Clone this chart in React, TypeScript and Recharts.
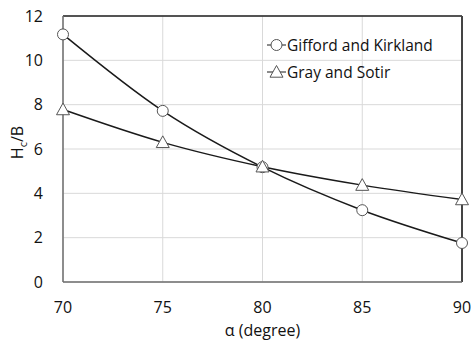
import { LineChart, Line, XAxis, YAxis, CartesianGrid, ReferenceLine } from "recharts"

const angles = [70, 75, 80, 85, 90]
const gifford = [11.17, 7.72, 5.18, 3.24, 1.76]
const graySotir = [7.78, 6.3, 5.2, 4.37, 3.72]
const xTicks = [70, 75, 80, 85, 90]
const yTicks = [0, 2, 4, 6, 8, 10, 12]
const seriesNames = ["Gifford and Kirkland", "Gray and Sotir"]

const data = angles.map((a, i) => ({ a, gifford: gifford[i], gray: graySotir[i] }))

const font = "Open Sans, sans-serif"
const ink = "#1a1a1a"

function Circle(props: any) {
  const { cx, cy } = props
  if (cx == null || cy == null) return null
  return <circle cx={cx} cy={cy} r={5.5} fill="#fff" stroke="#555" strokeWidth={1} />
}

function Triangle(props: any) {
  const { cx, cy } = props
  if (cx == null || cy == null) return null
  const s = 6.5
  return (
    <polygon
      points={`${cx},${cy - s} ${cx - s},${cy + s * 0.8} ${cx + s},${cy + s * 0.8}`}
      fill="#fff"
      stroke="#555"
      strokeWidth={1}
    />
  )
}

// legend drawn as an overlay inside the plot area, like the Excel original
function LegendBox() {
  const item = (label: string, tri: boolean) => (
    <div key={label} style={{ display: "flex", alignItems: "center", height: 27 }}>
      <svg width={21} height={16}>
        <line x1={1} y1={8} x2={20} y2={8} stroke={ink} strokeWidth={1} />
        {tri ? <Triangle cx={10.5} cy={8} /> : <Circle cx={10.5} cy={8} />}
      </svg>
      <span style={{ fontSize: 15.5, color: "#111", fontFamily: font, whiteSpace: "nowrap" }}>{label}</span>
    </div>
  )
  return (
    <div style={{ position: "absolute", left: 266, top: 31 }}>
      {item(seriesNames[0], false)}
      {item(seriesNames[1], true)}
    </div>
  )
}

export default function App() {
  return (
    <div style={{ position: "absolute", left: 0, top: 0, width: 473, height: 341, background: "#fff" }}>
      <LineChart
        width={473}
        height={341}
        data={data}
        margin={{ top: 16, right: 11, left: 0, bottom: 0 }}
        style={{ fontFamily: font }}
      >
        <CartesianGrid stroke="#d9d9d9" />
        <XAxis
          dataKey="a"
          type="number"
          domain={[70, 90]}
          ticks={xTicks}
          height={59}
          tickLine={false}
          axisLine={{ stroke: "#6e6e6e", strokeWidth: 1.5 }}
          tick={{ fill: "#111", fontSize: 16 }}
          tickMargin={14}
          label={{ value: "α (degree)", position: "insideBottom", offset: 5, fill: "#111", fontSize: 16 }}
        />
        <YAxis
          type="number"
          domain={[0, 12]}
          ticks={yTicks}
          width={63}
          tickLine={false}
          axisLine={{ stroke: "#6e6e6e", strokeWidth: 1.5 }}
          tick={{ fill: "#111", fontSize: 16 }}
          tickMargin={14}
          label={
            <text x={24} y={150} transform="rotate(-90 24 150)" textAnchor="middle" fill="#111" fontSize={16} fontFamily={font}>
              H<tspan fontSize={11} dy={4}>c</tspan>
              <tspan dy={-4}>/B</tspan>
            </text>
          }
        />
        <ReferenceLine y={12} stroke="#222" strokeWidth={1.5} />
        <ReferenceLine x={90} stroke="#444" strokeWidth={2} />
        <Line
          type="monotone"
          dataKey="gifford"
          name={seriesNames[0]}
          stroke={ink}
          strokeWidth={1.5}
          dot={<Circle />}
          isAnimationActive={false}
        />
        <Line
          type="monotone"
          dataKey="gray"
          name={seriesNames[1]}
          stroke={ink}
          strokeWidth={1.5}
          dot={<Triangle />}
          isAnimationActive={false}
        />
      </LineChart>
      <LegendBox />
    </div>
  )
}
